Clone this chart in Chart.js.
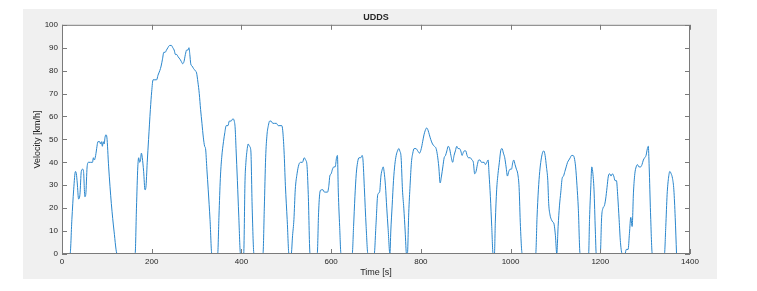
<!DOCTYPE html>
<html>
<head>
<meta charset="utf-8">
<script src="https://cdn.jsdelivr.net/npm/chart.js@4.4.1/dist/chart.umd.min.js"></script>
<style>
  html, body { margin: 0; padding: 0; background: #fff; }
  canvas { display: block; }
</style>
</head>
<body>
<canvas id="udds" width="757" height="291"></canvas>
<script>
// UDDS drive cycle (time in s, speed in km/h)
const timeS = [
  0, 18, 22, 26, 30, 32, 34, 37, 40, 43, 46, 48, 51, 53, 56, 59, 64, 68, 70, 72,
  75, 78, 80, 84, 86, 88, 90, 92, 94, 96, 98, 100, 104, 110, 116, 123, 163, 166, 169, 171,
  173, 175, 177, 179, 182, 185, 187, 190, 193, 197, 200, 203, 207, 211, 214, 218, 221, 224, 227, 230,
  233, 236, 240, 244, 247, 250, 253, 256, 259, 263, 266, 269, 272, 275, 278, 281, 283, 285, 287, 290,
  293, 297, 300, 303, 306, 309, 312, 315, 318, 320, 323, 326, 330, 334, 347, 350, 353, 356, 360, 363,
  366, 370, 373, 377, 381, 384, 386, 388, 391, 394, 398, 405, 408, 410, 413, 415, 418, 421, 424, 428,
  448, 451, 454, 457, 460, 463, 466, 470, 474, 478, 482, 486, 490, 492, 495, 498, 502, 506, 511, 514,
  517, 520, 524, 528, 532, 536, 540, 543, 546, 549, 553, 569, 572, 575, 578, 582, 585, 588, 592, 595,
  597, 600, 603, 606, 609, 612, 614, 616, 619, 622, 647, 650, 653, 656, 659, 662, 666, 669, 671, 674,
  678, 682, 696, 700, 704, 708, 711, 714, 716, 718, 721, 724, 727, 731, 733, 736, 739, 742, 745, 748,
  751, 753, 756, 759, 762, 765, 768, 770, 773, 776, 779, 782, 785, 789, 793, 797, 801, 804, 807, 810,
  813, 816, 819, 822, 826, 830, 834, 837, 840, 843, 846, 849, 852, 855, 858, 861, 864, 867, 871, 874,
  877, 880, 883, 886, 889, 892, 894, 897, 900, 903, 906, 910, 914, 917, 920, 923, 926, 929, 932, 935,
  938, 941, 944, 947, 950, 952, 955, 958, 961, 964, 966, 969, 972, 975, 978, 981, 984, 987, 990, 993,
  996, 999, 1002, 1005, 1007, 1010, 1013, 1016, 1019, 1022, 1026, 1056, 1059, 1062, 1065, 1068, 1071, 1074, 1077, 1080,
  1083, 1085, 1088, 1091, 1094, 1097, 1100, 1103, 1106, 1109, 1112, 1115, 1118, 1121, 1124, 1127, 1130, 1133, 1136, 1139,
  1142, 1145, 1148, 1151, 1155, 1174, 1176, 1179, 1181, 1183, 1186, 1189, 1191, 1200, 1203, 1206, 1209, 1212, 1215, 1218,
  1221, 1224, 1227, 1230, 1233, 1236, 1239, 1242, 1245, 1249, 1255, 1258, 1262, 1265, 1268, 1271, 1274, 1277, 1280, 1283,
  1286, 1290, 1293, 1296, 1299, 1302, 1305, 1307, 1309, 1312, 1316, 1343, 1346, 1349, 1352, 1355, 1358, 1361, 1364, 1367,
  1370
];
const speedKmh = [
  0, 0, 15, 28, 36, 35, 31, 24, 26, 36, 37, 36, 25, 26, 38, 40, 40, 40, 42, 41,
  43, 47, 49, 49, 48, 49, 47, 49, 48, 51, 52, 51, 38, 22, 10, 0, 0, 20, 38, 42,
  40, 41, 44, 42, 36, 28, 29, 40, 50, 63, 71, 76, 76, 76, 78, 80, 82, 85, 88, 88,
  89, 90, 91, 91, 90, 89, 87, 87, 86, 85, 84, 83, 84, 87, 89, 89, 90, 87, 83, 82,
  81, 80, 79, 75, 70, 63, 57, 51, 47, 46, 37, 28, 15, 0, 0, 17, 33, 42, 49, 53,
  56, 56, 58, 58, 59, 58, 55, 46, 32, 17, 0, 0, 32, 40, 46, 48, 47, 45, 20, 0,
  0, 20, 42, 52, 56, 58, 58, 57, 57, 57, 56, 56, 56, 54, 45, 30, 15, 0, 0, 8,
  15, 28, 35, 39, 40, 40, 42, 41, 39, 26, 0, 0, 18, 27, 28, 28, 27, 27, 27, 30,
  34, 35, 37, 38, 38, 42, 43, 27, 12, 0, 0, 12, 25, 35, 40, 42, 42, 43, 41, 29,
  12, 0, 0, 13, 26, 27, 34, 37, 38, 36, 30, 20, 11, 0, 10, 21, 32, 39, 43, 45,
  46, 45, 42, 28, 20, 10, 0, 0, 18, 30, 40, 44, 46, 46, 45, 44, 46, 49, 52, 54,
  55, 54, 52, 50, 48, 47, 46, 43, 38, 31, 34, 38, 42, 43, 45, 47, 46, 43, 40, 43,
  45, 47, 46, 46, 45, 43, 44, 45, 45, 43, 42, 42, 41, 40, 35, 36, 39, 41, 41, 40,
  40, 40, 39, 40, 41, 35, 25, 12, 0, 0, 14, 28, 35, 40, 45, 46, 44, 42, 38, 34,
  36, 37, 37, 40, 41, 39, 37, 35, 29, 12, 0, 0, 16, 28, 36, 41, 44, 45, 43, 38,
  32, 22, 17, 15, 14, 13, 8, 0, 12, 21, 27, 33, 34, 36, 38, 40, 41, 42, 43, 43,
  42, 38, 30, 20, 0, 0, 15, 30, 38, 36, 28, 10, 0, 0, 16, 20, 21, 24, 29, 34,
  35, 34, 35, 34, 32, 32, 25, 15, 5, 0, 0, 2, 2, 9, 16, 12, 27, 35, 38, 39,
  38, 38, 39, 41, 42, 43, 46, 47, 38, 18, 0, 0, 12, 26, 33, 36, 35, 33, 28, 16,
  0
];
const xTickValues = [0, 200, 400, 600, 800, 1000, 1200, 1400];
const yTickValues = [0, 10, 20, 30, 40, 50, 60, 70, 80, 90, 100];

const FONT = '"Liberation Sans", Arial, Helvetica, sans-serif';
const INK = "#262626";
const AXIS_LINE = "#7a7a7a";

// MATLAB-like figure: grey frame, white axes, box with inward ticks on all sides
const matlabFrame = {
  id: "matlabFrame",
  beforeDraw(chart) {
    const { ctx, chartArea: a } = chart;
    ctx.save();
    ctx.fillStyle = "#f0f0f0";
    ctx.fillRect(23, 9, 694, 270);
    ctx.fillStyle = "#ffffff";
    ctx.fillRect(a.left, a.top, a.right - a.left, a.bottom - a.top);
    ctx.restore();
  },
  afterDraw(chart) {
    const { ctx, chartArea: a, scales } = chart;
    const tick = 5;
    ctx.save();
    ctx.strokeStyle = AXIS_LINE;
    ctx.lineWidth = 1;
    ctx.strokeRect(a.left + 0.5, a.top + 0.5, a.right - a.left - 1, a.bottom - a.top - 1);
    ctx.beginPath();
    xTickValues.forEach((v) => {
      const x = Math.round(scales.x.getPixelForValue(v)) + 0.5;
      ctx.moveTo(x, a.bottom);
      ctx.lineTo(x, a.bottom - tick);
      ctx.moveTo(x, a.top);
      ctx.lineTo(x, a.top + tick);
    });
    yTickValues.forEach((v) => {
      const y = Math.round(scales.y.getPixelForValue(v)) + 0.5;
      ctx.moveTo(a.left, y);
      ctx.lineTo(a.left + tick, y);
      ctx.moveTo(a.right, y);
      ctx.lineTo(a.right - tick, y);
    });
    ctx.stroke();
    ctx.restore();
  },
};

new Chart(document.getElementById("udds"), {
  type: "line",
  data: {
    datasets: [
      {
        data: timeS.map((t, i) => ({ x: t, y: speedKmh[i] })),
        borderColor: "#2a86cc",
        borderWidth: 1,
        pointRadius: 0,
        cubicInterpolationMode: "monotone",
        fill: false,
      },
    ],
  },
  options: {
    responsive: false,
    animation: false,
    devicePixelRatio: 1,
    layout: { padding: { left: 23, top: 9, right: 67, bottom: 12 } },
    plugins: {
      legend: { display: false },
      tooltip: { enabled: false },
      title: {
        display: true,
        text: "UDDS",
        fullSize: false,
        color: INK,
        font: { family: FONT, size: 9, weight: "bold" },
        padding: { top: 3, bottom: 2 },
      },
    },
    scales: {
      x: {
        type: "linear",
        min: 0,
        max: 1400,
        afterBuildTicks: (s) => { s.ticks = xTickValues.map((value) => ({ value })); },
        afterFit: (s) => { s.height = 25; },
        grid: { display: false, drawTicks: false },
        border: { display: false },
        ticks: {
          color: INK,
          padding: 3,
          maxRotation: 0,
          font: { family: FONT, size: 8 },
          callback: (v) => String(v),
        },
        title: {
          display: true,
          text: "Time [s]",
          color: INK,
          font: { family: FONT, size: 9 },
          padding: { top: 0, bottom: 1 },
        },
      },
      y: {
        min: 0,
        max: 100,
        afterBuildTicks: (s) => { s.ticks = yTickValues.map((value) => ({ value })); },
        afterFit: (s) => { s.width = 39; },
        grid: { display: false, drawTicks: false },
        border: { display: false },
        ticks: { color: INK, padding: 4, font: { family: FONT, size: 8 }, callback: (v) => String(v) },
        title: {
          display: true,
          text: "Velocity [km/h]",
          color: INK,
          font: { family: FONT, size: 9 },
          padding: { top: 9, bottom: 0 },
        },
      },
    },
  },
  plugins: [matlabFrame],
});
</script>
</body>
</html>
